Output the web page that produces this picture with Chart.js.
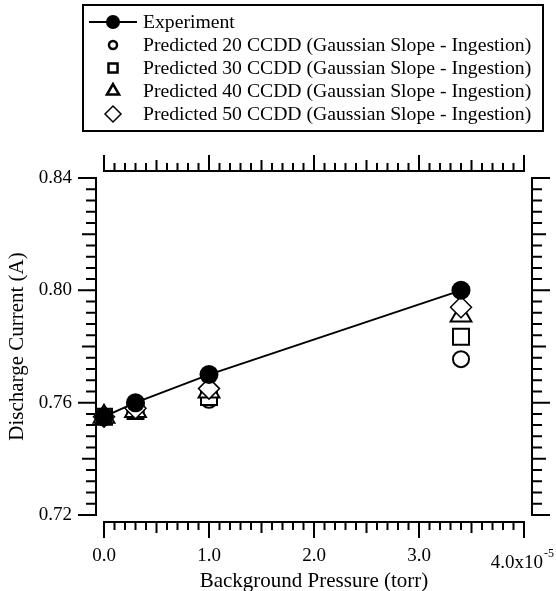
<!DOCTYPE html>
<html>
<head>
<meta charset="utf-8">
<title>Discharge Current vs Background Pressure</title>
<script src="https://cdn.jsdelivr.net/npm/chart.js@4"></script>
<style>
  html, body { margin: 0; padding: 0; background: #fff; }
  canvas { display: block; }
</style>
</head>
<body>
<canvas id="chart" width="556" height="591"></canvas>
<script>
// background pressure, units of 1e-5 torr
var pressure = [0, 0.3, 1.0, 3.4]
// discharge current (A)
var experiment = [0.755, 0.760, 0.770, 0.800]
var pred20 = [0.755, 0.757, 0.761, 0.7755]
var pred30 = [0.755, 0.757, 0.762, 0.7835]
var pred40 = [0.755, 0.757, 0.764, 0.791]
var pred50 = [0.755, 0.758, 0.765, 0.794]

var seriesNames = [
    'Experiment',
    'Predicted 20 CCDD (Gaussian Slope - Ingestion)',
    'Predicted 30 CCDD (Gaussian Slope - Ingestion)',
    'Predicted 40 CCDD (Gaussian Slope - Ingestion)',
    'Predicted 50 CCDD (Gaussian Slope - Ingestion)'
]

var xTickValues = [0, 1, 2, 3, 4]
var xTickLabels = ['0.0', '1.0', '2.0', '3.0', '4.0x10']
var xExponent = '-5'
var yTickValues = [0.72, 0.76, 0.80, 0.84]
var yTickLabels = ['0.72', '0.76', '0.80', '0.84']
var xMinorStep = 0.1
var yMinorStep = 0.004

var serif = "'Liberation Serif', 'Times New Roman', serif"

function pts(ys) {
    return pressure.map(function (x, i) { return { x: x, y: ys[i] } })
}

// Igor-style detached axes: line + ticks drawn off the plot edges
var igorAxes = {
    id: 'igorAxes',
    beforeDatasetsDraw: function (chart) {
        var ctx = chart.ctx
        var xs = chart.scales.x, ys = chart.scales.y
        var a = chart.chartArea
        var last = xTickValues.length - 1
        var x0 = xs.getPixelForValue(xTickValues[0])
        var x1 = xs.getPixelForValue(xTickValues[last])
        var y0 = ys.getPixelForValue(yTickValues[0])
        var y1 = ys.getPixelForValue(yTickValues[yTickValues.length - 1])
        ctx.save()
        ctx.strokeStyle = '#000'
        ctx.lineWidth = 2
        ctx.beginPath()
        // axis lines
        ctx.moveTo(a.left, y0 + 1); ctx.lineTo(a.left, y1 - 1)
        ctx.moveTo(a.right, y0 + 1); ctx.lineTo(a.right, y1 - 1)
        ctx.moveTo(x0 - 1, a.bottom); ctx.lineTo(x1 + 1, a.bottom)
        ctx.moveTo(x0 - 1, a.top); ctx.lineTo(x1 + 1, a.top)
        // x ticks
        var nx = Math.round((xTickValues[last] - xTickValues[0]) / xMinorStep)
        for (var i = 0; i <= nx; i++) {
            var px = xs.getPixelForValue(xTickValues[0] + i * xMinorStep)
            var len = i % 10 == 0 ? 16 : (i % 5 == 0 ? 11 : 8)
            ctx.moveTo(px, a.bottom); ctx.lineTo(px, a.bottom + len)
            ctx.moveTo(px, a.top); ctx.lineTo(px, a.top - len)
        }
        // y ticks
        var ny = Math.round((yTickValues[yTickValues.length - 1] - yTickValues[0]) / yMinorStep)
        for (var j = 0; j <= ny; j++) {
            var py = ys.getPixelForValue(yTickValues[0] + j * yMinorStep)
            var l = j % 10 == 0 ? 18 : (j % 5 == 0 ? 14 : 10)
            ctx.moveTo(a.left, py); ctx.lineTo(a.left - l, py)
            ctx.moveTo(a.right, py); ctx.lineTo(a.right + l, py)
        }
        ctx.stroke()

        // last x label with its exponent, set lower like the original
        ctx.fillStyle = '#000'
        ctx.textBaseline = 'middle'
        ctx.font = '19px ' + serif
        ctx.textAlign = 'right'
        ctx.fillText(xTickLabels[last], x1 + 19, a.bottom + 41)
        ctx.font = '12px ' + serif
        ctx.textAlign = 'left'
        ctx.fillText(xExponent, x1 + 20, a.bottom + 32)
        ctx.restore()
    }
}

var legendSizes = [7, 4, 6.4, 7, 8]

var boxLegend = {
    id: 'boxLegend',
    afterDraw: function (chart) {
        var ctx = chart.ctx
        ctx.save()
        ctx.strokeStyle = '#000'
        ctx.lineWidth = 2
        ctx.strokeRect(83, 5, 460, 126)
        ctx.font = '19.7px ' + serif
        ctx.textBaseline = 'middle'
        chart.data.datasets.forEach(function (ds, i) {
            var y = 22 + i * 23
            ctx.fillStyle = ds.pointBackgroundColor
            ctx.strokeStyle = '#000'
            if (ds.showLine) {
                ctx.lineWidth = 2
                ctx.beginPath()
                ctx.moveTo(89, y); ctx.lineTo(137, y)
                ctx.stroke()
            }
            ctx.lineWidth = i == 4 ? 1.5 : 2.5
            Chart.helpers.drawPoint(ctx, {
                pointStyle: ds.pointStyle,
                radius: legendSizes[i],
                borderWidth: ds.showLine ? 0 : ctx.lineWidth,
                rotation: 0
            }, 113, y)
            ctx.fillStyle = '#000'
            ctx.fillText(ds.label, 143, y + 1)
        })
        ctx.restore()
    }
}

var ctx = document.getElementById('chart').getContext('2d')
var myChart = new Chart(ctx, {
    type: 'scatter',
    data: {
        datasets: [{
            label: seriesNames[0],
            data: pts(experiment),
            showLine: true,
            borderColor: '#000',
            borderWidth: 2,
            pointStyle: 'circle',
            pointRadius: 9.5,
            pointBackgroundColor: '#000',
            pointBorderColor: '#000',
            pointBorderWidth: 0,
            order: 0,
            clip: false
        }, {
            label: seriesNames[1],
            data: pts(pred20),
            showLine: false,
            pointStyle: 'circle',
            pointRadius: 8,
            pointBackgroundColor: '#fff',
            pointBorderColor: '#000',
            pointBorderWidth: 2,
            order: 4,
            clip: false
        }, {
            label: seriesNames[2],
            data: pts(pred30),
            showLine: false,
            pointStyle: 'rect',
            pointRadius: 11.3,
            pointBackgroundColor: '#fff',
            pointBorderColor: '#000',
            pointBorderWidth: 2,
            order: 3,
            clip: false
        }, {
            label: seriesNames[3],
            data: pts(pred40),
            showLine: false,
            pointStyle: 'triangle',
            pointRadius: 12,
            pointBackgroundColor: '#fff',
            pointBorderColor: '#000',
            pointBorderWidth: 2,
            order: 2,
            clip: false
        }, {
            label: seriesNames[4],
            data: pts(pred50),
            showLine: false,
            pointStyle: 'rectRot',
            pointRadius: 10.5,
            pointBackgroundColor: '#fff',
            pointBorderColor: '#000',
            pointBorderWidth: 1.5,
            order: 1,
            clip: false
        }]
    },
    options: {
        responsive: false,
        animation: false,
        events: [],
        layout: { padding: { top: 171, right: 24, left: 0, bottom: 0 } },
        plugins: {
            legend: { display: false },
            tooltip: { enabled: false }
        },
        scales: {
            x: {
                type: 'linear',
                position: 'bottom',
                min: -8 / 105,
                max: 4 + 8 / 105,
                grid: { display: false, drawTicks: false },
                border: { display: false },
                afterBuildTicks: function (scale) {
                    scale.ticks = xTickValues.map(function (v) { return { value: v } })
                },
                afterFit: function (scale) {
                    scale.height = 69
                    scale.paddingLeft = 0
                    scale.paddingRight = 0
                },
                ticks: {
                    autoSkip: false,
                    maxRotation: 0,
                    padding: 23,
                    color: '#000',
                    font: { family: serif, size: 19 },
                    // last label is drawn with its exponent by the axes plugin
                    callback: function (v, i) { return i < xTickLabels.length - 1 ? xTickLabels[i] : '' }
                },
                title: {
                    display: true,
                    text: 'Background Pressure (torr)',
                    color: '#000',
                    font: { family: serif, size: 21 },
                    padding: { top: 0, bottom: -3 }
                }
            },
            y: {
                type: 'linear',
                position: 'left',
                min: 0.72 - 7 / 2800,
                max: 0.84 + 7 / 2800,
                grid: { display: false, drawTicks: false },
                border: { display: false },
                afterBuildTicks: function (scale) {
                    scale.ticks = yTickValues.map(function (v) { return { value: v } })
                },
                afterFit: function (scale) { scale.width = 96 },
                ticks: {
                    autoSkip: false,
                    padding: 24,
                    color: '#000',
                    font: { family: serif, size: 19 },
                    callback: function (v, i) { return yTickLabels[i] }
                },
                title: {
                    display: true,
                    text: 'Discharge Current (A)',
                    color: '#000',
                    font: { family: serif, size: 21 },
                    padding: { top: 5, bottom: 0 }
                }
            }
        }
    },
    plugins: [igorAxes, boxLegend]
})
</script>
</body>
</html>
